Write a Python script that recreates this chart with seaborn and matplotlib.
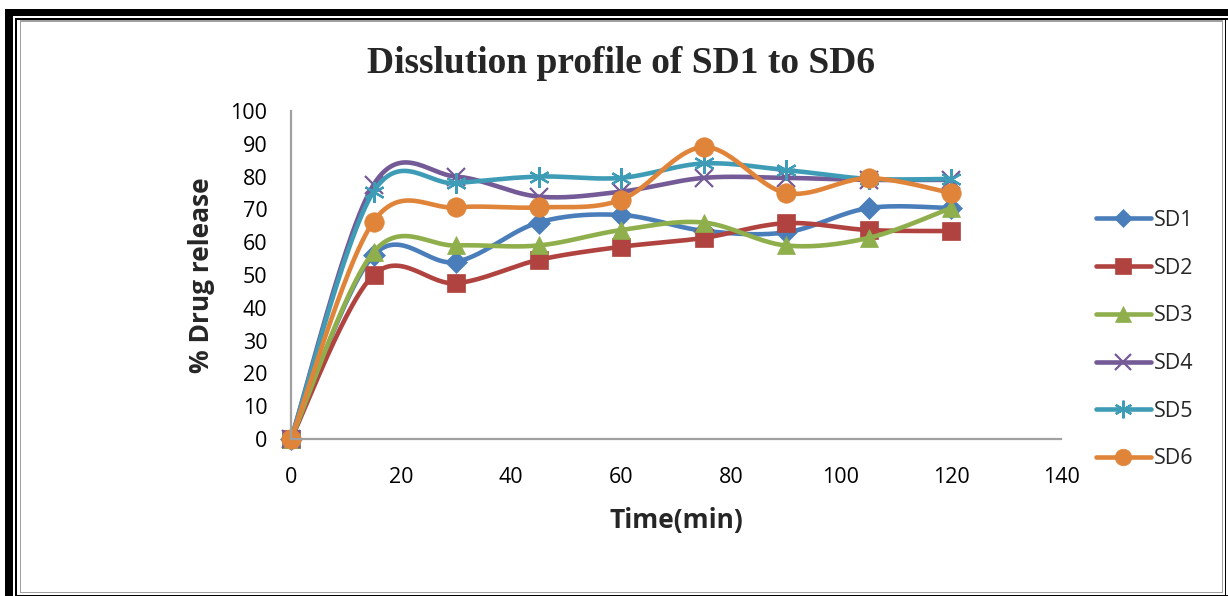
import numpy as np
import pandas as pd
import matplotlib
matplotlib.use("Agg")
import matplotlib.pyplot as plt
from matplotlib.lines import Line2D
from matplotlib.patches import Rectangle
import seaborn as sns

# ---- data ----
time = [0, 15, 30, 45, 60, 75, 90, 105, 120]
SD1 = [0, 56, 54, 66, 68.3, 63.5, 63, 70.4, 70.4]
SD2 = [0, 50, 47.5, 54.6, 58.6, 61.3, 65.8, 63.7, 63.4]
SD3 = [0, 57, 59, 59, 63.7, 66, 59, 61.3, 70.4]
SD4 = [0, 77.5, 80, 73.9, 75.4, 79.6, 79.6, 79, 79]
SD5 = [0, 75.4, 78, 80, 79.6, 84, 82, 79.3, 79.3]
SD6 = [0, 66.3, 70.6, 70.6, 72.9, 89, 75, 79.5, 75]
series_names = ["SD1", "SD2", "SD3", "SD4", "SD5", "SD6"]
series_values = [SD1, SD2, SD3, SD4, SD5, SD6]
x_ticks = [0, 20, 40, 60, 80, 100, 120, 140]
y_ticks = [0, 10, 20, 30, 40, 50, 60, 70, 80, 90, 100]

colors = ["#4A7EBB", "#B0433F", "#8FAE4C", "#745A96", "#3E9CB6", "#E0843A"]
markers = ["D", "s", "^", "x", (6, 2, 0), "o"]
msizes = [11, 13, 13, 13, 15, 14]


def smooth(xs, ys, n=30):
    """Excel-style smoothed line (Catmull-Rom Bezier) through the data points."""
    xs = np.asarray(xs, float)
    ys = np.asarray(ys, float)
    P = np.column_stack([xs, ys])
    out = []
    for i in range(len(P) - 1):
        p0 = P[i - 1] if i > 0 else P[i]
        p1 = P[i]
        p2 = P[i + 1]
        p3 = P[i + 2] if i + 2 < len(P) else P[i + 1]
        c1 = p1 + (p2 - p0) / 6.0
        c2 = p2 - (p3 - p1) / 6.0
        t = np.linspace(0, 1, n, endpoint=(i == len(P) - 2))[:, None]
        b = ((1 - t) ** 3) * p1 + 3 * ((1 - t) ** 2) * t * c1 + 3 * (1 - t) * t ** 2 * c2 + t ** 3 * p2
        out.append(b)
    out = np.vstack(out)
    return out[:, 0], out[:, 1]


sns.set_theme(style="white")
plt.rcParams["font.family"] = ["Open Sans", "DejaVu Sans"]

fig = plt.figure(figsize=(12.28, 5.96), dpi=100)
ax = fig.add_axes([0.237, 0.2634, 0.627, 0.5504])

for name, vals, c, m, ms in zip(series_names, series_values, colors, markers, msizes):
    sx, sy = smooth(time, vals)
    dfl = pd.DataFrame({"t": sx, "v": sy})
    sns.lineplot(data=dfl, x="t", y="v", ax=ax, color=c, linewidth=3.3,
                 sort=False, estimator=None, legend=False)
    dfp = pd.DataFrame({"t": time, "v": vals})
    ax.plot(dfp["t"], dfp["v"], linestyle="none", marker=m, markersize=ms,
            color=c, markeredgecolor=c,
            markeredgewidth=1.6 if m in ("x", (6, 2, 0)) else 0.5)

ax.set_xlim(0, 140)
ax.set_ylim(0, 100)
ax.set_xticks(x_ticks)
ax.set_yticks(y_ticks)
ax.tick_params(axis="both", length=0, labelsize=15.5, colors="black")
ax.tick_params(axis="x", pad=20)
ax.tick_params(axis="y", pad=17)
for sp in ["top", "right"]:
    ax.spines[sp].set_visible(False)
for sp in ["left", "bottom"]:
    ax.spines[sp].set_color("#A0A0A0")
    ax.spines[sp].set_linewidth(1.6)
ax.grid(False)
for ln in ax.lines:
    ln.set_clip_on(False)

ax.set_xlabel("Time(min)", fontsize=19, fontweight="bold", labelpad=14)
ax.set_ylabel("% Drug release", fontsize=19, fontweight="bold", labelpad=11)

fig.text(0.506, 0.893, "Disslution profile of SD1 to SD6", ha="center", va="center",
         fontsize=27, fontweight="bold", family=["Liberation Serif", "DejaVu Serif"])

handles = [Line2D([0], [0], color=c, linewidth=3.3, marker=m, markersize=ms * 0.85,
                  markeredgewidth=1.6 if m in ("x", (6, 2, 0)) else 0.5,
                  solid_capstyle="round")
           for c, m, ms in zip(colors, markers, msizes)]
fig.legend(handles, series_names, loc="center left", bbox_to_anchor=(0.8925, 0.43),
           frameon=False, fontsize=15.5, handlelength=2.55, handletextpad=0.12,
           labelspacing=1.24, borderpad=0, borderaxespad=0)

# ---- page frame ----
W, H = 1228.0, 596.0


def rect(x0, y0, x1, y1, color):
    fig.patches.append(Rectangle((x0 / W, 1 - y1 / H), (x1 - x0) / W, (y1 - y0) / H,
                                 transform=fig.transFigure, facecolor=color,
                                 edgecolor="none", zorder=10))


rect(5, 9, 13, 596, "black")
rect(5, 9, 1228, 16, "black")
rect(15, 18, 16.5, 596, "black")
rect(15, 18, 1228, 19.5, "black")
rect(19.5, 20, 21, 593, "#A0A0A0")
rect(19.5, 20, 1223, 21.5, "#A0A0A0")
rect(1221.5, 20, 1223, 593, "#A0A0A0")
rect(19.5, 591.5, 1223, 593, "#A0A0A0")
rect(1224.5, 18, 1226, 596, "black")
rect(15, 594.5, 1228, 596, "black")

fig.savefig("out.png", dpi=100)
